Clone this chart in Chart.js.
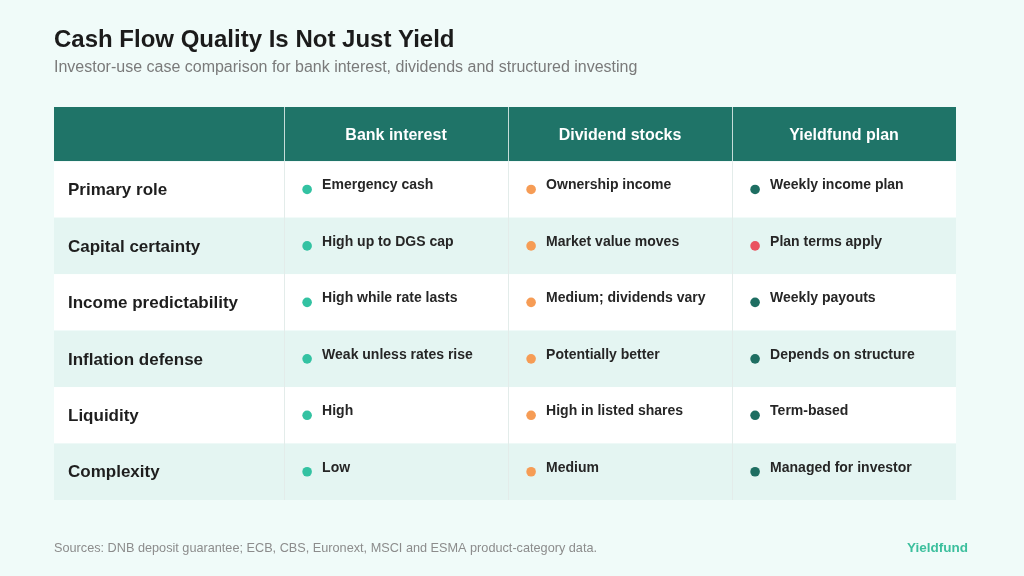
<!DOCTYPE html>
<html>
<head>
<meta charset="utf-8">
<script src="https://cdn.jsdelivr.net/npm/chart.js@4"></script>
<style>
  html, body { margin: 0; padding: 0; background: #f0fbf9; }
  #wrap { width: 1024px; height: 576px; position: relative; }
</style>
</head>
<body>
<div id="wrap"><canvas id="tableChart"></canvas></div>
<script>
const columns = ['Bank interest', 'Dividend stocks', 'Yieldfund plan'];
const rowLabels = ['Primary role', 'Capital certainty', 'Income predictability', 'Inflation defense', 'Liquidity', 'Complexity'];

const bankInterest = ['Emergency cash', 'High up to DGS cap', 'High while rate lasts', 'Weak unless rates rise', 'High', 'Low'];
const dividendStocks = ['Ownership income', 'Market value moves', 'Medium; dividends vary', 'Potentially better', 'High in listed shares', 'Medium'];
const yieldfundPlan = ['Weekly income plan', 'Plan terms apply', 'Weekly payouts', 'Depends on structure', 'Term-based', 'Managed for investor'];

const bankStatus = ['bank', 'bank', 'bank', 'bank', 'bank', 'bank'];
const dividendStatus = ['equity', 'equity', 'equity', 'equity', 'equity', 'equity'];
const yieldfundStatus = ['plan', 'caution', 'plan', 'plan', 'plan', 'plan'];

const title = 'Cash Flow Quality Is Not Just Yield';
const subtitle = 'Investor-use case comparison for bank interest, dividends and structured investing';
const sourceNote = 'Sources: DNB deposit guarantee; ECB, CBS, Euronext, MSCI and ESMA product-category data.';
const brand = 'Yieldfund';

const dotColors = { bank: '#33c2a2', equity: '#f69c55', plan: '#1e6e62', caution: '#ea5360' };
const FONT = '"Liberation Sans", Arial, Helvetica, sans-serif';

const cellText = [bankInterest, dividendStocks, yieldfundPlan];
const cellStatus = [bankStatus, dividendStatus, yieldfundStatus];

// label column is a bit wider than the data columns (x unit = one data column)
const LABEL_START = -1.027;
const DOT_OFFSET = 0.103;
const TEXT_OFFSET = 0.17;

const datasets = cellText.map((col, c) => ({
    type: 'scatter',
    label: columns[c],
    data: col.map((txt, r) => ({ x: c + DOT_OFFSET, y: r + 1.5, text: txt })),
    pointRadius: 4.8,
    pointHoverRadius: 4.8,
    pointBorderWidth: 0,
    pointBackgroundColor: cellStatus[c].map(s => dotColors[s]),
    showLine: false
}));

const tablePlugin = {
    id: 'tablePlugin',
    beforeDraw(chart) {
        const ctx = chart.ctx;
        ctx.save();
        ctx.fillStyle = '#f0fbf9';
        ctx.fillRect(0, 0, chart.width, chart.height);
        ctx.restore();
    },
    beforeDatasetsDraw(chart) {
        const { ctx, scales: { x, y } } = chart;
        const left = x.getPixelForValue(LABEL_START);
        const right = x.getPixelForValue(columns.length);
        ctx.save();
        // header band
        ctx.fillStyle = '#1f7468';
        ctx.fillRect(left, y.getPixelForValue(y.min), right - left, y.getPixelForValue(1) - y.getPixelForValue(y.min));
        // body rows
        rowLabels.forEach((lab, r) => {
            const top = y.getPixelForValue(r + 1);
            const bot = y.getPixelForValue(r + 2);
            ctx.fillStyle = r % 2 === 0 ? '#ffffff' : '#e4f5f2';
            ctx.fillRect(left, top, right - left, bot - top);
        });
        // column dividers
        for (let c = 0; c < columns.length; c++) {
            const px = Math.round(x.getPixelForValue(c)) + 0.5;
            ctx.strokeStyle = 'rgba(255,255,255,0.75)';
            ctx.lineWidth = 1;
            ctx.beginPath();
            ctx.moveTo(px, y.getPixelForValue(y.min));
            ctx.lineTo(px, y.getPixelForValue(1));
            ctx.stroke();
            ctx.strokeStyle = '#e3ecea';
            ctx.beginPath();
            ctx.moveTo(px, y.getPixelForValue(1));
            ctx.lineTo(px, y.getPixelForValue(rowLabels.length + 1));
            ctx.stroke();
        }
        ctx.restore();
    },
    afterDatasetsDraw(chart) {
        const { ctx, scales: { x, y } } = chart;
        ctx.save();
        ctx.textBaseline = 'middle';
        // header text
        ctx.fillStyle = '#ffffff';
        ctx.font = 'bold 16px ' + FONT;
        ctx.textAlign = 'center';
        columns.forEach((name, c) => {
            ctx.fillText(name, x.getPixelForValue(c + 0.5), y.getPixelForValue((y.min + 1) / 2) + 1.5);
        });
        // row labels
        ctx.textAlign = 'left';
        ctx.fillStyle = '#1e1e1e';
        ctx.font = 'bold 17px ' + FONT;
        rowLabels.forEach((lab, r) => {
            ctx.fillText(lab, x.getPixelForValue(LABEL_START + 0.0625), y.getPixelForValue(r + 1.5) + 1);
        });
        // cell text
        ctx.fillStyle = '#262626';
        ctx.font = 'bold 14px ' + FONT;
        chart.data.datasets.forEach((ds, c) => {
            ds.data.forEach(p => {
                ctx.fillText(p.text, x.getPixelForValue(c + TEXT_OFFSET), y.getPixelForValue(p.y) - 4);
            });
        });
        ctx.restore();
    },
    afterDraw(chart) {
        const ctx = chart.ctx;
        ctx.save();
        ctx.textBaseline = 'middle';
        ctx.textAlign = 'left';
        ctx.fillStyle = '#8c8c8c';
        ctx.font = '12.7px ' + FONT;
        ctx.fillText(sourceNote, 54, 548);
        ctx.textAlign = 'right';
        ctx.fillStyle = '#3cbf9d';
        ctx.font = 'bold 13.5px ' + FONT;
        ctx.fillText(brand, 968, 548);
        ctx.restore();
    }
};

new Chart(document.getElementById('tableChart'), {
    type: 'scatter',
    data: { datasets },
    options: {
        responsive: true,
        maintainAspectRatio: false,
        animation: false,
        events: [],
        layout: { padding: { left: 54, right: 68, top: 0, bottom: 76 } },
        scales: {
            x: { type: 'linear', min: LABEL_START, max: columns.length, display: false },
            y: { type: 'linear', min: 0.04, max: rowLabels.length + 1, reverse: true, display: false }
        },
        plugins: {
            legend: { display: false },
            tooltip: { enabled: false },
            title: {
                display: true,
                text: title,
                align: 'start',
                color: '#1b1b1b',
                font: { family: FONT, size: 24, weight: 'bold' },
                padding: { top: 26, bottom: 3 }
            },
            subtitle: {
                display: true,
                text: subtitle,
                align: 'start',
                color: '#7a7a7a',
                font: { family: FONT, size: 16, weight: 'normal' },
                padding: { top: 0, bottom: 30 }
            }
        }
    },
    plugins: [tablePlugin]
});
</script>
</body>
</html>
